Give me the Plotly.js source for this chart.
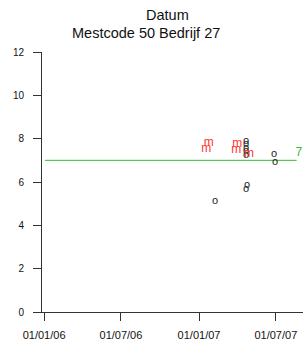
<!DOCTYPE html>
<html><head><meta charset="utf-8">
<script src="https://cdn.plot.ly/plotly-3.0.1.min.js"></script>
<style>html,body{margin:0;padding:0;background:#fff;}#c{width:303px;height:349px;}</style>
</head><body><div id="c"></div>
<script>
// Red "m" observations
const mDates = ['2007-01-24','2007-01-18','2007-04-01','2007-03-30','2007-04-29'];
const mValues = [7.82, 7.52, 7.75, 7.48, 7.29];
// Black "o" observations
const oDates = ['2007-04-22','2007-04-22','2007-04-22','2007-04-22','2007-04-22','2007-02-08','2007-04-24','2007-04-22','2007-06-27','2007-06-29'];
const oValues = [7.89, 7.73, 7.57, 7.41, 7.25, 5.12, 5.84, 5.65, 7.29, 6.9];
// Reference line
const refDates = ['2006-01-03','2007-08-19'];
const refValue = 7;
const refLabel = '7';
const refLabelDate = '2007-08-24';
const refLabelY = 7.36;
const xTickVals = ['2006-01-01','2006-07-01','2007-01-01','2007-07-01'];
const xTickText = ['01/01/06','01/07/06','01/01/07','01/07/07'];
const yTickVals = [0,2,4,6,8,10,12];

const font = 'Liberation Sans, Arial, sans-serif';
const traces = [
  {x: refDates, y: refDates.map(()=>refValue), mode:'lines', line:{color:'#33bb33', width:1}, hoverinfo:'skip'},
  {x: [refLabelDate], y:[refLabelY], mode:'text', text:[refLabel], textposition:'middle center', textfont:{color:'#33bb33', size:12, family:font}},
  {x: oDates, y: oValues, mode:'text', text: oDates.map(()=>'o'), textposition:'middle center', textfont:{color:'#222', size:11, family:font}},
  {x: mDates, y: mValues, mode:'text', text: mDates.map(()=>'m'), textposition:'middle center', textfont:{color:'#ff3333', size:12, family:font}}
];
const layout = {
  width:303, height:349, showlegend:false,
  margin:{l:42, r:0, t:52, b:37},
  paper_bgcolor:'#fff', plot_bgcolor:'#fff',
  font:{family:font, color:'#111'},
  xaxis:{type:'date', range:['2005-12-27','2007-09-03'], tickvals:xTickVals, ticktext:xTickText,
    showgrid:false, zeroline:false, showline:true, linecolor:'#333', linewidth:1,
    ticks:'outside', ticklen:8, tickcolor:'#333', tickfont:{size:11, family:font, color:'#111'}, ticklabelstandoff:5},
  yaxis:{range:[0,12], tickvals:yTickVals, showgrid:false, zeroline:false, showline:true, linecolor:'#333', linewidth:1,
    ticks:'outside', ticklen:8, tickcolor:'#333', tickfont:{size:10, family:font, color:'#111'}, ticklabelstandoff:7},
  annotations:[
    {text:'Datum', xref:'paper', yref:'paper', x:0.479, y:1.142, showarrow:false, xanchor:'center', yanchor:'middle', font:{size:14.5, family:font, color:'#111'}},
    {text:'Mestcode 50 Bedrijf 27', xref:'paper', yref:'paper', x:0.398, y:1.073, showarrow:false, xanchor:'center', yanchor:'middle', font:{size:14.5, family:font, color:'#111'}}
  ]
};
Plotly.newPlot('c', traces, layout, {displayModeBar:false, staticPlot:true});
</script></body></html>
